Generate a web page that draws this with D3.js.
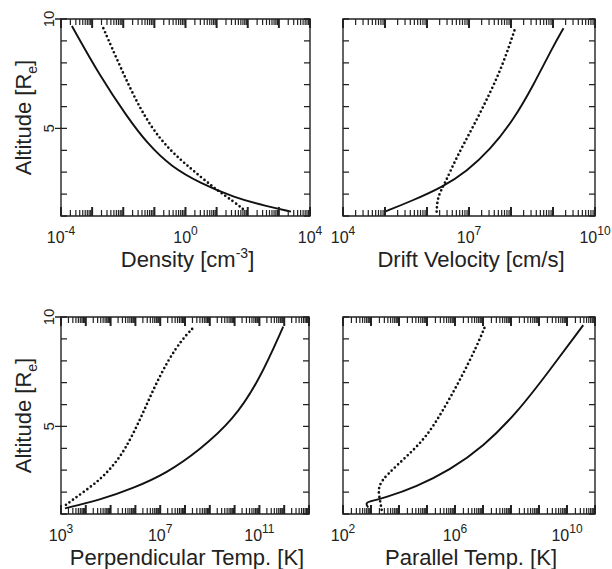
<!DOCTYPE html>
<html>
<head>
<meta charset="utf-8">
<script src="https://cdn.jsdelivr.net/npm/d3@7"></script>
<style>
  body { margin: 0; background: #fff; }
  text { font-family: "Liberation Sans", Arial, sans-serif; fill: #222; }
</style>
</head>
<body>
<div id="chart"></div>
<script>
// Altitude axis (Earth radii)
var altDomain = [1, 10];
var altTicks = [1, 2, 3, 4, 5, 6, 7, 8, 9, 10];
var altLabels = [5, 10];

// Density [cm^-3] (log10 values)
var densSolidLog = [-3.65, -2.74, -1.88, -1.24, -0.45, 0.48, 1.55, 2.65, 3.39];
var densSolidAlt = [9.68, 7.37, 5.54, 4.33, 3.24, 2.5, 1.85, 1.43, 1.2];
var densDotLog = [-2.64, -2.1, -1.45, -0.81, -0.16, 0.48, 1.0, 1.55, 1.88];
var densDotAlt = [9.58, 7.82, 5.84, 4.47, 3.56, 2.8, 2.19, 1.66, 1.28];

// Drift velocity [cm/s]
var velSolidLog = [5.0, 5.6, 6.39, 6.95, 7.5, 8.06, 8.54, 9.0, 9.25];
var velSolidAlt = [1.2, 1.66, 2.34, 3.05, 4.02, 5.39, 7.0, 8.74, 9.58];
var velDotLog = [6.23, 6.25, 6.43, 6.71, 7.1, 7.5, 7.82, 8.1];
var velDotAlt = [1.2, 1.89, 2.5, 3.71, 5.08, 6.61, 7.98, 9.58];

// Perpendicular temperature [K]
var perpSolidLog = [3.16, 4.57, 5.92, 7.26, 8.6, 9.95, 11.0, 11.96];
var perpSolidAlt = [1.26, 1.64, 2.18, 2.86, 3.93, 5.3, 7.12, 9.56];
var perpDotLog = [3.2, 3.9, 4.57, 5.1, 5.58, 6.19, 6.71, 7.32, 7.9, 8.31];
var perpDotAlt = [1.42, 2.0, 2.56, 3.2, 3.93, 5.3, 6.67, 8.04, 9.0, 9.48];

// Parallel temperature [K]
var parSolidLog = [2.9, 2.78, 3.1, 3.44, 4.63, 5.82, 7.01, 8.2, 9.39, 10.58];
var parSolidAlt = [1.3, 1.52, 1.62, 1.72, 2.25, 3.01, 4.08, 5.6, 7.58, 9.63];
var parDotLog = [3.38, 3.32, 3.23, 3.56, 4.27, 4.99, 5.58, 6.18, 6.77, 7.07];
var parDotAlt = [1.19, 1.64, 2.25, 2.79, 3.62, 4.53, 5.75, 7.12, 8.64, 9.56];

// x ranges (log10 exponents) and labelled decades
var densRange = [-4, 4], densLabels = [-4, 0, 4];
var velRange = [4, 10], velLabels = [4, 7, 10];
var perpRange = [3, 13], perpLabels = [3, 7, 11];
var parRange = [2, 11], parLabels = [2, 6, 10];

var W = 612, H = 569;
var svg = d3.select("#chart").append("svg")
  .attr("width", W).attr("height", H);

var panels = [
  {left: 61, top: 19, w: 249, h: 197, range: densRange, labels: densLabels,
   solid: [densSolidLog, densSolidAlt], dot: [densDotLog, densDotAlt],
   title: ["Density [cm", "-3", "]"], yTitle: true},
  {left: 343, top: 19, w: 252, h: 197, range: velRange, labels: velLabels,
   solid: [velSolidLog, velSolidAlt], dot: [velDotLog, velDotAlt],
   title: ["Drift Velocity [cm/s]"], yTitle: false},
  {left: 61, top: 317, w: 248, h: 197, range: perpRange, labels: perpLabels,
   solid: [perpSolidLog, perpSolidAlt], dot: [perpDotLog, perpDotAlt],
   title: ["Perpendicular Temp. [K]"], yTitle: true},
  {left: 343, top: 317, w: 252, h: 197, range: parRange, labels: parLabels,
   solid: [parSolidLog, parSolidAlt], dot: [parDotLog, parDotAlt],
   title: ["Parallel Temp. [K]"], yTitle: false}
];

var ink = "#222";

panels.forEach(function(p) {
  // absolute-coordinate scales
  var x = d3.scaleLog()
    .domain([Math.pow(10, p.range[0]), Math.pow(10, p.range[1])])
    .range([p.left, p.left + p.w]);
  var y = d3.scaleLinear().domain(altDomain).range([p.top + p.h, p.top]);
  var bottom = p.top + p.h;

  if (p.yTitle) {
    altLabels.forEach(function(v) {
      svg.append("text")
        .attr("transform", `translate(${p.left - 7},${y(v)}) rotate(-90)`)
        .attr("text-anchor", "middle")
        .attr("font-size", 15)
        .text(v);
    });
    svg.append("text")
      .attr("transform", `translate(${p.left - 30},${p.top + p.h / 2}) rotate(-90)`)
      .attr("text-anchor", "middle")
      .attr("font-size", 22)
      .call(t => {
        t.append("tspan").text("Altitude [R");
        t.append("tspan").attr("font-size", 14).attr("dy", 6).text("e");
        t.append("tspan").attr("dy", -6).text("]");
      });
  }

  // tick labels 10^n
  p.labels.forEach(function(e) {
    var t = svg.append("text")
      .attr("x", x(Math.pow(10, e)))
      .attr("y", bottom + 27)
      .attr("text-anchor", "middle")
      .attr("font-size", 16);
    t.append("tspan").text("10");
    t.append("tspan").attr("font-size", 12).attr("dy", -8).text(e);
  });

  // axis title
  var tt = svg.append("text")
    .attr("x", p.left + p.w / 2 + 2)
    .attr("y", bottom + 51)
    .attr("text-anchor", "middle")
    .attr("font-size", 22);
  tt.append("tspan").text(p.title[0]);
  if (p.title.length > 1) {
    tt.append("tspan").attr("font-size", 14).attr("dy", -9).text(p.title[1]);
    tt.append("tspan").attr("dy", 9).text(p.title[2]);
  }

  var line = d3.line()
    .x(d => x(Math.pow(10, d[0])))
    .y(d => y(d[1]))
    .curve(d3.curveBasis);

  svg.append("path")
    .attr("d", line(d3.zip(p.solid[0], p.solid[1])))
    .attr("fill", "none")
    .attr("stroke", "#111")
    .attr("stroke-width", 1.9);

  svg.append("path")
    .attr("d", line(d3.zip(p.dot[0], p.dot[1])))
    .attr("fill", "none")
    .attr("stroke", "#111")
    .attr("stroke-width", 2.7)
    .attr("stroke-linecap", "round")
    .attr("stroke-dasharray", "0,4.4");

  // frame
  svg.append("path")
    .attr("d", `M${p.left},${p.top}h${p.w}v${p.h}h${-p.w}Z`)
    .attr("fill", "none").attr("stroke", ink).attr("stroke-width", 1.4);

  // log tick positions: 1..9 in each decade
  var minorT = [], majorT = [];
  for (var ex = p.range[0]; ex < p.range[1]; ex++) {
    majorT.push(Math.pow(10, ex));
    for (var k = 2; k <= 9; k++) minorT.push(k * Math.pow(10, ex));
  }
  majorT.push(Math.pow(10, p.range[1]));

  var minorD = minorT.map(v => `M${x(v)},${bottom}v-6M${x(v)},${p.top}v6`).join("");
  var majorD = majorT.map(v => `M${x(v)},${bottom}v-9M${x(v)},${p.top}v9`).join("");
  var yD = altTicks.map(v => `M${p.left},${y(v)}h6M${p.left + p.w},${y(v)}h-6`).join("");

  svg.append("path").attr("d", minorD)
    .attr("fill", "none").attr("stroke", ink).attr("stroke-width", 1.2);
  svg.append("path").attr("d", majorD)
    .attr("fill", "none").attr("stroke", ink).attr("stroke-width", 2);
  svg.append("path").attr("d", yD)
    .attr("fill", "none").attr("stroke", ink).attr("stroke-width", 1.3);
  if (p.yTitle) {
    svg.append("path")
      .attr("d", altLabels.map(v => `M${p.left},${y(v)}h-6`).join(""))
      .attr("fill", "none").attr("stroke", ink).attr("stroke-width", 1.3);
  }
});
</script>
</body>
</html>
